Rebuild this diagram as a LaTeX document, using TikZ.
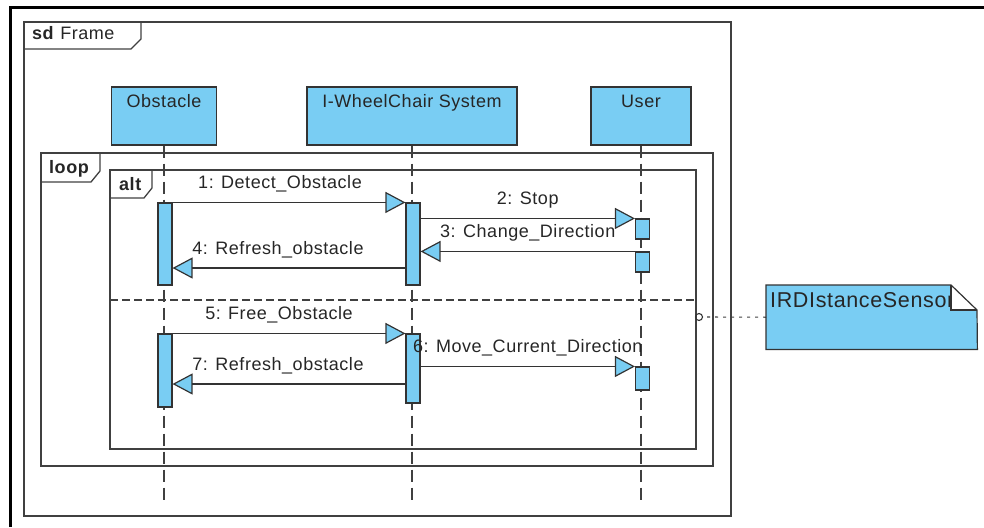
\documentclass[tikz,border=0pt]{standalone}
\usepackage{fontspec}
\setmainfont{Liberation Sans}[LetterSpace=3]
\usepackage{tikz}
\usetikzlibrary{arrows.meta}
\definecolor{umlblue}{RGB}{121,205,243}

\begin{document}
\begin{tikzpicture}[x=1pt, y=-1pt,
    every node/.style={font=\fontsize{18}{22}\selectfont, text=black!85},
    head/.style={draw=black!80, line width=1.2pt, fill=umlblue, inner sep=0pt, text height=20pt, text depth=38pt},
    act/.style={draw=black!80, line width=1.1pt, fill=umlblue, minimum width=14pt, inner sep=0pt},
    lifeline/.style={black!75, line width=1.1pt, dash pattern=on 12pt off 6pt},
    frame/.style={black!75, line width=1.3pt},
    msg/.style={black!80, line width=1.2pt, -{Triangle[length=20pt, width=21pt, fill=umlblue]}},
    lbl/.style={anchor=base, yshift=14pt},
    tab/.style={anchor=base west, inner sep=0pt},
    notebox/.style={anchor=north west, fill=umlblue, inner xsep=4pt, inner ysep=0pt, text width=203pt, text height=22pt, text depth=42pt, align=left, font=\fontsize{21.5}{25}\selectfont}]
    \useasboundingbox (0,0) rectangle (984,527);

    % Border
    \draw[line width=3pt] (10,527) -- (10,8) -- (984,8);

    % Frames
    \draw[frame] (24,22) rectangle (731,516);
    \draw[frame] (24,49) -- (131,49) -- (141,39) -- (141,22);
    \node[tab] (sdtab) at (32,40) {\textbf{sd}\hspace{6pt}Frame};

    \draw[frame] (41,153) rectangle (713,466);
    \draw[frame] (41,182) -- (91,182) -- (100,171) -- (100,153);
    \node[tab] (looptab) at (49,173) {\textbf{loop}};

    \draw[frame] (110,170) rectangle (696,449);
    \draw[frame] (110,198) -- (144,198) -- (152,188) -- (152,170);
    \node[tab] (alttab) at (119,190) {\textbf{alt}};
    \draw[frame, dash pattern=on 8pt off 4pt] (110,300) -- (696,300);

    % Lifelines
    \node[head, minimum width=105pt] (obst) at (164,116) {Obstacle};
    \node[head, minimum width=210pt] (chair) at (412,116) {I-WheelChair System};
    \node[head, minimum width=100pt] (user) at (641,116) {User};

    \coordinate (obstEnd) at (164,500);
    \coordinate (chairEnd) at (412,500);
    \coordinate (userEnd) at (641,500);
    \draw[lifeline] (obst) -- (obstEnd);
    \draw[lifeline] (chair) -- (chairEnd);
    \draw[lifeline] (user) -- (userEnd);

    % Activations
    \node[act, minimum height=82pt] (ob1) at (165,244) {};
    \node[act, minimum height=82pt] (wc1) at (413,244) {};
    \node[act, minimum height=20pt] (us1) at (642.5,229) {};
    \node[act, minimum height=20pt] (us2) at (642.5,262) {};
    \node[act, minimum height=73pt] (ob2) at (165,370.5) {};
    \node[act, minimum height=69pt] (wc2) at (413,368.5) {};
    \node[act, minimum height=23pt] (us3) at (642.5,378.5) {};

    % Messages
    \coordinate (m4) at (0,268);
    \coordinate (m7) at (0,384);
    \draw[msg] (ob1.north east) -- (wc1.north west) node[midway, lbl, xshift=-9pt] {1: Detect\_Obstacle};
    \draw[msg] (wc1.east |- us1.north) -- (us1.north west) node[midway, lbl] {2: Stop};
    \draw[msg] (us2.north west) -- (wc1.east |- us2.north) node[midway, lbl] {3: Change\_Direction};
    \draw[msg] (wc1.west |- m4) -- (ob1.east |- m4) node[midway, lbl, xshift=-11pt] {4: Refresh\_obstacle};
    \draw[msg] (ob2.north east) -- (wc2.north west) node[midway, lbl, xshift=-10pt] {5: Free\_Obstacle};
    \draw[msg] (wc2.east |- us3.north) -- (us3.north west) node[midway, lbl] {6: Move\_Current\_Direction};
    \draw[msg] (wc2.west |- m7) -- (ob2.east |- m7) node[midway, lbl, xshift=-11pt] {7: Refresh\_obstacle};

    % Note
    \node[notebox] (sensor) at (766,285) {IRDIstanceSensor};
    \fill[white] (951,284) rectangle (979,310);
    \draw[black!80, line width=1.2pt] (sensor.north west) -- (951,285) -- (977,310) -- (sensor.south east) -- (sensor.south west) -- cycle;
    \draw[black!80, line width=1.2pt] (951,285) -- (951,310) -- (977,310);

    \coordinate (altPort) at (703,317);
    \draw[black!75, line width=1.1pt, dash pattern=on 3pt off 5pt] (sensor.west) -- (altPort);
    \draw[black!80, line width=1.1pt] (699,317) circle (3.5pt);
\end{tikzpicture}
\end{document}
